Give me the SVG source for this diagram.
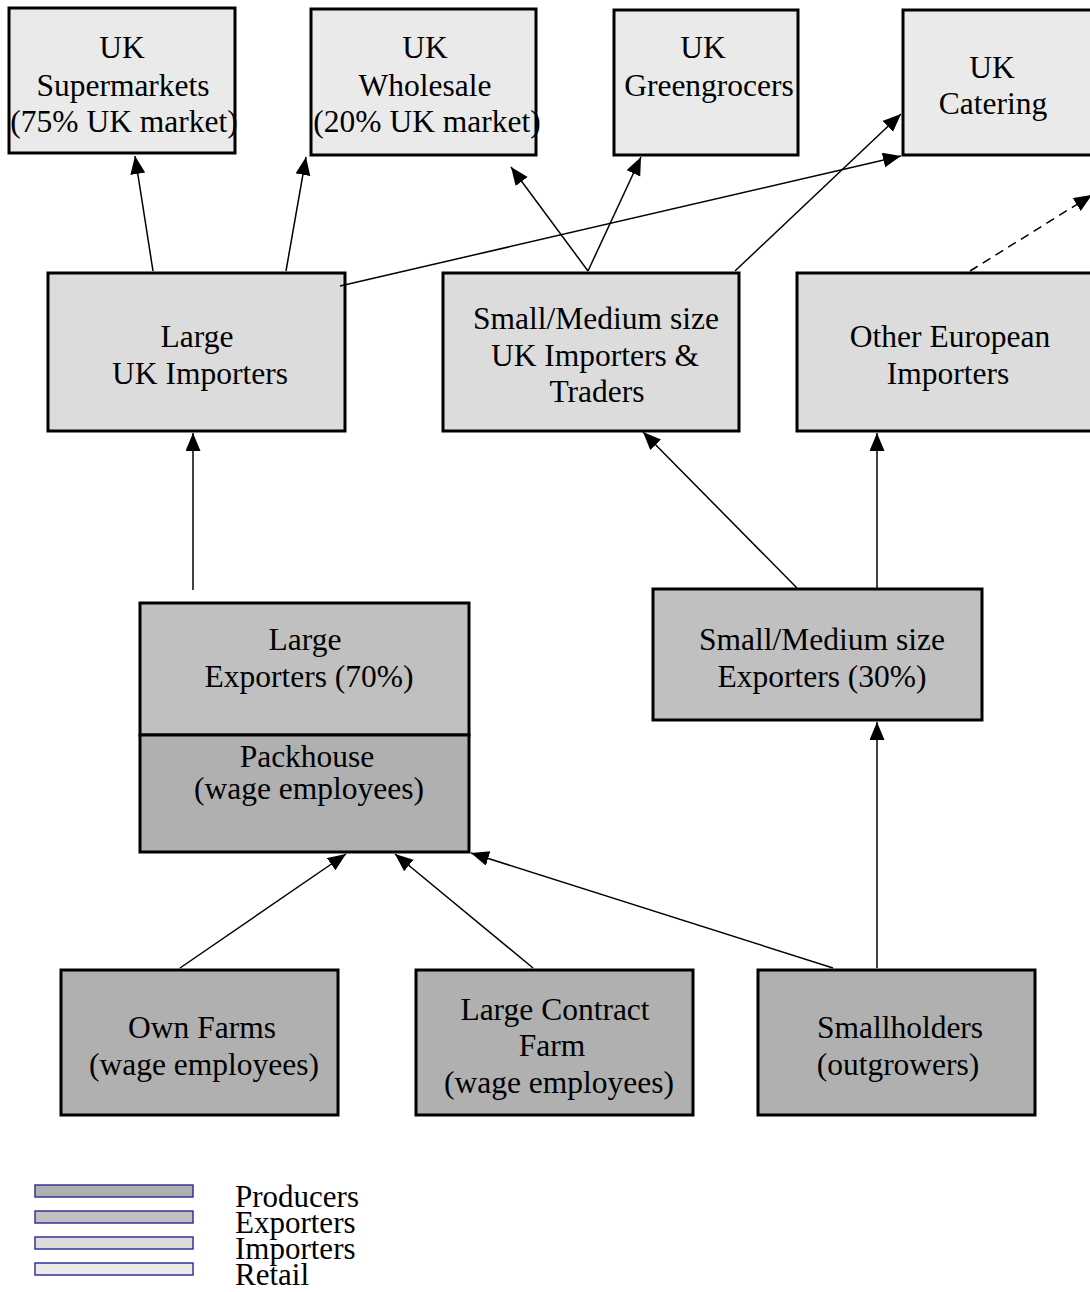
<svg xmlns="http://www.w3.org/2000/svg" width="1090" height="1292" viewBox="0 0 1090 1292">
<defs>
<marker id="ah" markerUnits="userSpaceOnUse" markerWidth="20" markerHeight="16" refX="18" refY="7.5" orient="auto" viewBox="0 0 20 16">
<path d="M0,0 L18,7.5 L0,15 z" fill="#000"/>
</marker>
<style>
.box{stroke:#000;stroke-width:3}
.ret{fill:#eaeaea}
.imp{fill:#dcdcdc}
.exp{fill:#c0c0c0}
.pro{fill:#b0b0b0}
.t{font-family:"Liberation Serif","Times New Roman",serif;font-size:31.5px;fill:#000;text-anchor:middle}
.lt{font-family:"Liberation Serif","Times New Roman",serif;font-size:31px;fill:#000}
.c{stroke:#000;stroke-width:1.5;fill:none;marker-end:url(#ah)}
.leg{stroke:#333399;stroke-width:1.5}
</style>
</defs>
<g id="retail-supermarkets"><rect class="box ret" x="9" y="8" width="226" height="145"/>
<text class="t" x="122" y="58">UK</text><text class="t" x="123" y="96">Supermarkets</text><text class="t" x="124" y="132">(75% UK market)</text></g>
<g id="retail-wholesale"><rect class="box ret" x="311" y="9" width="225" height="146"/>
<text class="t" x="425" y="58">UK</text><text class="t" x="425" y="96">Wholesale</text><text class="t" x="427" y="132">(20% UK market)</text></g>
<g id="retail-greengrocers"><rect class="box ret" x="614" y="10" width="184" height="145"/>
<text class="t" x="703" y="58">UK</text><text class="t" x="709" y="96">Greengrocers</text></g>
<g id="retail-catering"><rect class="box ret" x="903" y="10" width="189" height="145"/>
<text class="t" x="992" y="78">UK</text><text class="t" x="993" y="114">Catering</text></g>

<g id="imp-large"><rect class="box imp" x="48" y="273" width="297" height="158"/>
<text class="t" x="197" y="347">Large</text><text class="t" x="200" y="384">UK Importers</text></g>
<g id="imp-sm"><rect class="box imp" x="443" y="273" width="296" height="158"/>
<text class="t" x="596" y="329">Small/Medium size</text><text class="t" x="595" y="366">UK Importers &amp;</text><text class="t" x="597" y="402">Traders</text></g>
<g id="imp-eu"><rect class="box imp" x="797" y="273" width="295" height="158"/>
<text class="t" x="950" y="347">Other European</text><text class="t" x="948" y="384">Importers</text></g>

<g id="exp-large"><rect class="box exp" x="140" y="603" width="329" height="132"/>
<text class="t" x="305" y="650">Large</text><text class="t" x="309" y="687">Exporters (70%)</text></g>
<g id="packhouse"><rect class="box pro" x="140" y="735" width="329" height="117"/>
<text class="t" x="307" y="767">Packhouse</text><text class="t" x="309" y="799">(wage employees)</text></g>
<g id="exp-sm"><rect class="box exp" x="653" y="589" width="329" height="131"/>
<text class="t" x="822" y="650">Small/Medium size</text><text class="t" x="822" y="687">Exporters (30%)</text></g>

<g id="prod-own"><rect class="box pro" x="61" y="970" width="277" height="145"/>
<text class="t" x="202" y="1038">Own Farms</text><text class="t" x="204" y="1075">(wage employees)</text></g>
<g id="prod-contract"><rect class="box pro" x="416" y="970" width="277" height="145"/>
<text class="t" x="555" y="1020">Large Contract</text><text class="t" x="552" y="1056">Farm</text><text class="t" x="559" y="1093">(wage employees)</text></g>
<g id="prod-small"><rect class="box pro" x="758" y="970" width="277" height="145"/>
<text class="t" x="900" y="1038">Smallholders</text><text class="t" x="898" y="1075">(outgrowers)</text></g>

<g id="connectors">
<line class="c" x1="153" y1="271" x2="135" y2="156"/>
<line class="c" x1="286" y1="271" x2="306" y2="157"/>
<line class="c" x1="340" y1="286" x2="901" y2="156"/>
<line class="c" x1="588" y1="271" x2="511" y2="167"/>
<line class="c" x1="588" y1="271" x2="641" y2="157"/>
<line class="c" x1="735" y1="271" x2="901" y2="114"/>
<line class="c" x1="970" y1="271" x2="1092" y2="195" stroke-dasharray="9,6"/>
<line class="c" x1="193" y1="590" x2="193" y2="433"/>
<line class="c" x1="797" y1="588" x2="643" y2="432"/>
<line class="c" x1="877" y1="588" x2="877" y2="433"/>
<line class="c" x1="180" y1="968" x2="346" y2="854"/>
<line class="c" x1="533" y1="968" x2="395" y2="854"/>
<line class="c" x1="833" y1="968" x2="471" y2="853"/>
<line class="c" x1="877" y1="968" x2="877" y2="722"/>
</g>

<g id="legend">
<rect class="leg pro" x="35" y="1185" width="158" height="12"/>
<rect class="leg exp" x="35" y="1211" width="158" height="12"/>
<rect class="leg imp" x="35" y="1237" width="158" height="12"/>
<rect class="leg ret" x="35" y="1263" width="158" height="12"/>
<text class="lt" x="235" y="1207">Producers</text>
<text class="lt" x="235" y="1233">Exporters</text>
<text class="lt" x="235" y="1259">Importers</text>
<text class="lt" x="235" y="1285">Retail</text>
</g>
</svg>
